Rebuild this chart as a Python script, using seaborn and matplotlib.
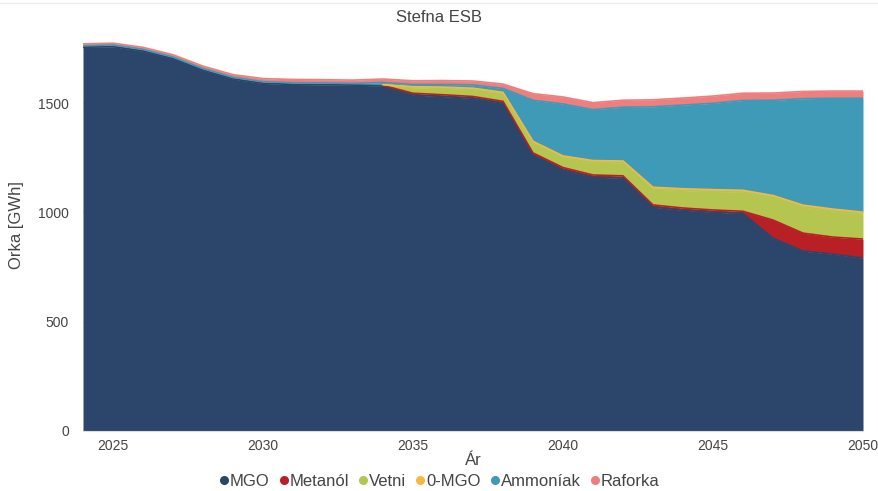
import matplotlib
matplotlib.use("Agg")
import matplotlib.pyplot as plt
from matplotlib.lines import Line2D
import seaborn as sns
import numpy as np
import pandas as pd

years = list(range(2024, 2051))
mgo = [1755, 1758, 1738, 1703, 1650, 1610, 1590, 1585, 1584, 1582, 1578, 1537, 1530, 1522,
       1500, 1262, 1195, 1161, 1157, 1024, 1010, 1001, 995, 882, 823, 809, 791]
metanol = [0, 0, 0, 0, 0, 0, 0, 0, 0, 0, 3, 8, 8, 8, 8, 10, 10, 10, 10, 10, 10, 10, 10, 83, 82, 78, 87]
vetni = [0, 0, 0, 0, 0, 0, 0, 0, 0, 0, 3, 25, 30, 32, 35, 45, 45, 58, 60, 73, 80, 85, 88, 104, 120, 120, 115]
zero_mgo = [0, 0, 0, 0, 0, 0, 0, 0, 0, 0, 1, 5, 5, 6, 6, 8, 8, 8, 8, 8, 8, 8, 8, 8, 8, 8, 8]
ammoniak = [8, 8, 8, 8, 8, 8, 8, 8, 8, 8, 9, 10, 12, 15, 18, 188, 238, 233, 246, 368, 383, 395, 411, 436, 487, 507, 521]
raforka = [8, 8, 9, 10, 11, 12, 14, 15, 15, 15, 16, 17, 18, 18, 20, 30, 32, 32, 32, 32, 32, 33, 33, 33, 33, 33, 33]

series_names = ["MGO", "Metanól", "Vetni", "0-MGO", "Ammoníak", "Raforka"]
colors = ["#2c456b", "#b82025", "#b5c650", "#f5b942", "#3f9ab8", "#ef7f7f"]

df = pd.DataFrame({"Ár": years, "MGO": mgo, "Metanól": metanol, "Vetni": vetni,
                   "0-MGO": zero_mgo, "Ammoníak": ammoniak, "Raforka": raforka})

sns.set_theme(style="white")
plt.rcParams['font.family'] = ['Liberation Sans', 'DejaVu Sans']
text_col = "#444444"

fig = plt.figure(figsize=(8.79, 4.91), dpi=100)
ax = fig.add_axes([83/879, 1 - 431/491, (863-83)/879, (431-20)/491])

ymax = 1880
for v in [500, 1000, 1500]:
    ax.axhline(v, color="#e6e6e6", lw=1, zorder=0)

ax.stackplot(df["Ár"], *[df[n] for n in series_names], colors=colors, lw=0, zorder=2)

# edge lines at top of each series
cum = np.zeros(len(years))
for i, (n, c) in enumerate(zip(series_names, colors)):
    vals = df[n].to_numpy(dtype=float)
    cum = cum + vals
    y = np.where(vals > 0, cum, np.nan)
    sns.lineplot(x=df["Ár"], y=y, ax=ax, color=c, lw=1.2, zorder=3 + i, legend=False)

ax.set_xlim(2024, 2050)
ax.set_ylim(0, ymax)
ax.set_xticks([2025, 2030, 2035, 2040, 2045, 2050])
ax.set_yticks([0, 500, 1000, 1500])
ax.tick_params(axis="both", labelsize=10, colors=text_col)
ax.tick_params(axis="y", length=6, width=0.8, color="#dddddd", direction="out", pad=4)
ax.tick_params(axis="x", length=0, pad=6)
for s in ["top", "right", "left"]:
    ax.spines[s].set_visible(False)
ax.spines["bottom"].set_color("#dddddd")
ax.spines["bottom"].set_linewidth(0.8)

ax.set_xlabel("Ár", fontsize=12, color=text_col, labelpad=0)
ax.set_ylabel("Orka [GWh]", fontsize=12, color=text_col, labelpad=10)
fig.text(0.5, 1 - 17/491, "Stefna ESB", ha="center", va="center", fontsize=12, color=text_col)

handles = [Line2D([0], [0], marker="o", color="none", markerfacecolor=c, markeredgecolor=c,
                  markersize=5.5) for c in colors]
fig.legend(handles, series_names, loc="center", bbox_to_anchor=(0.5, 1 - 481/491), ncol=6,
           frameon=False, fontsize=12, labelcolor=text_col, handlelength=0.5,
           handletextpad=0.1, columnspacing=0.6)

fig.add_artist(Line2D([0, 1], [1 - 3/491, 1 - 3/491], color="#eeeeee", lw=1, transform=fig.transFigure))

fig.savefig("out.png", dpi=100)
